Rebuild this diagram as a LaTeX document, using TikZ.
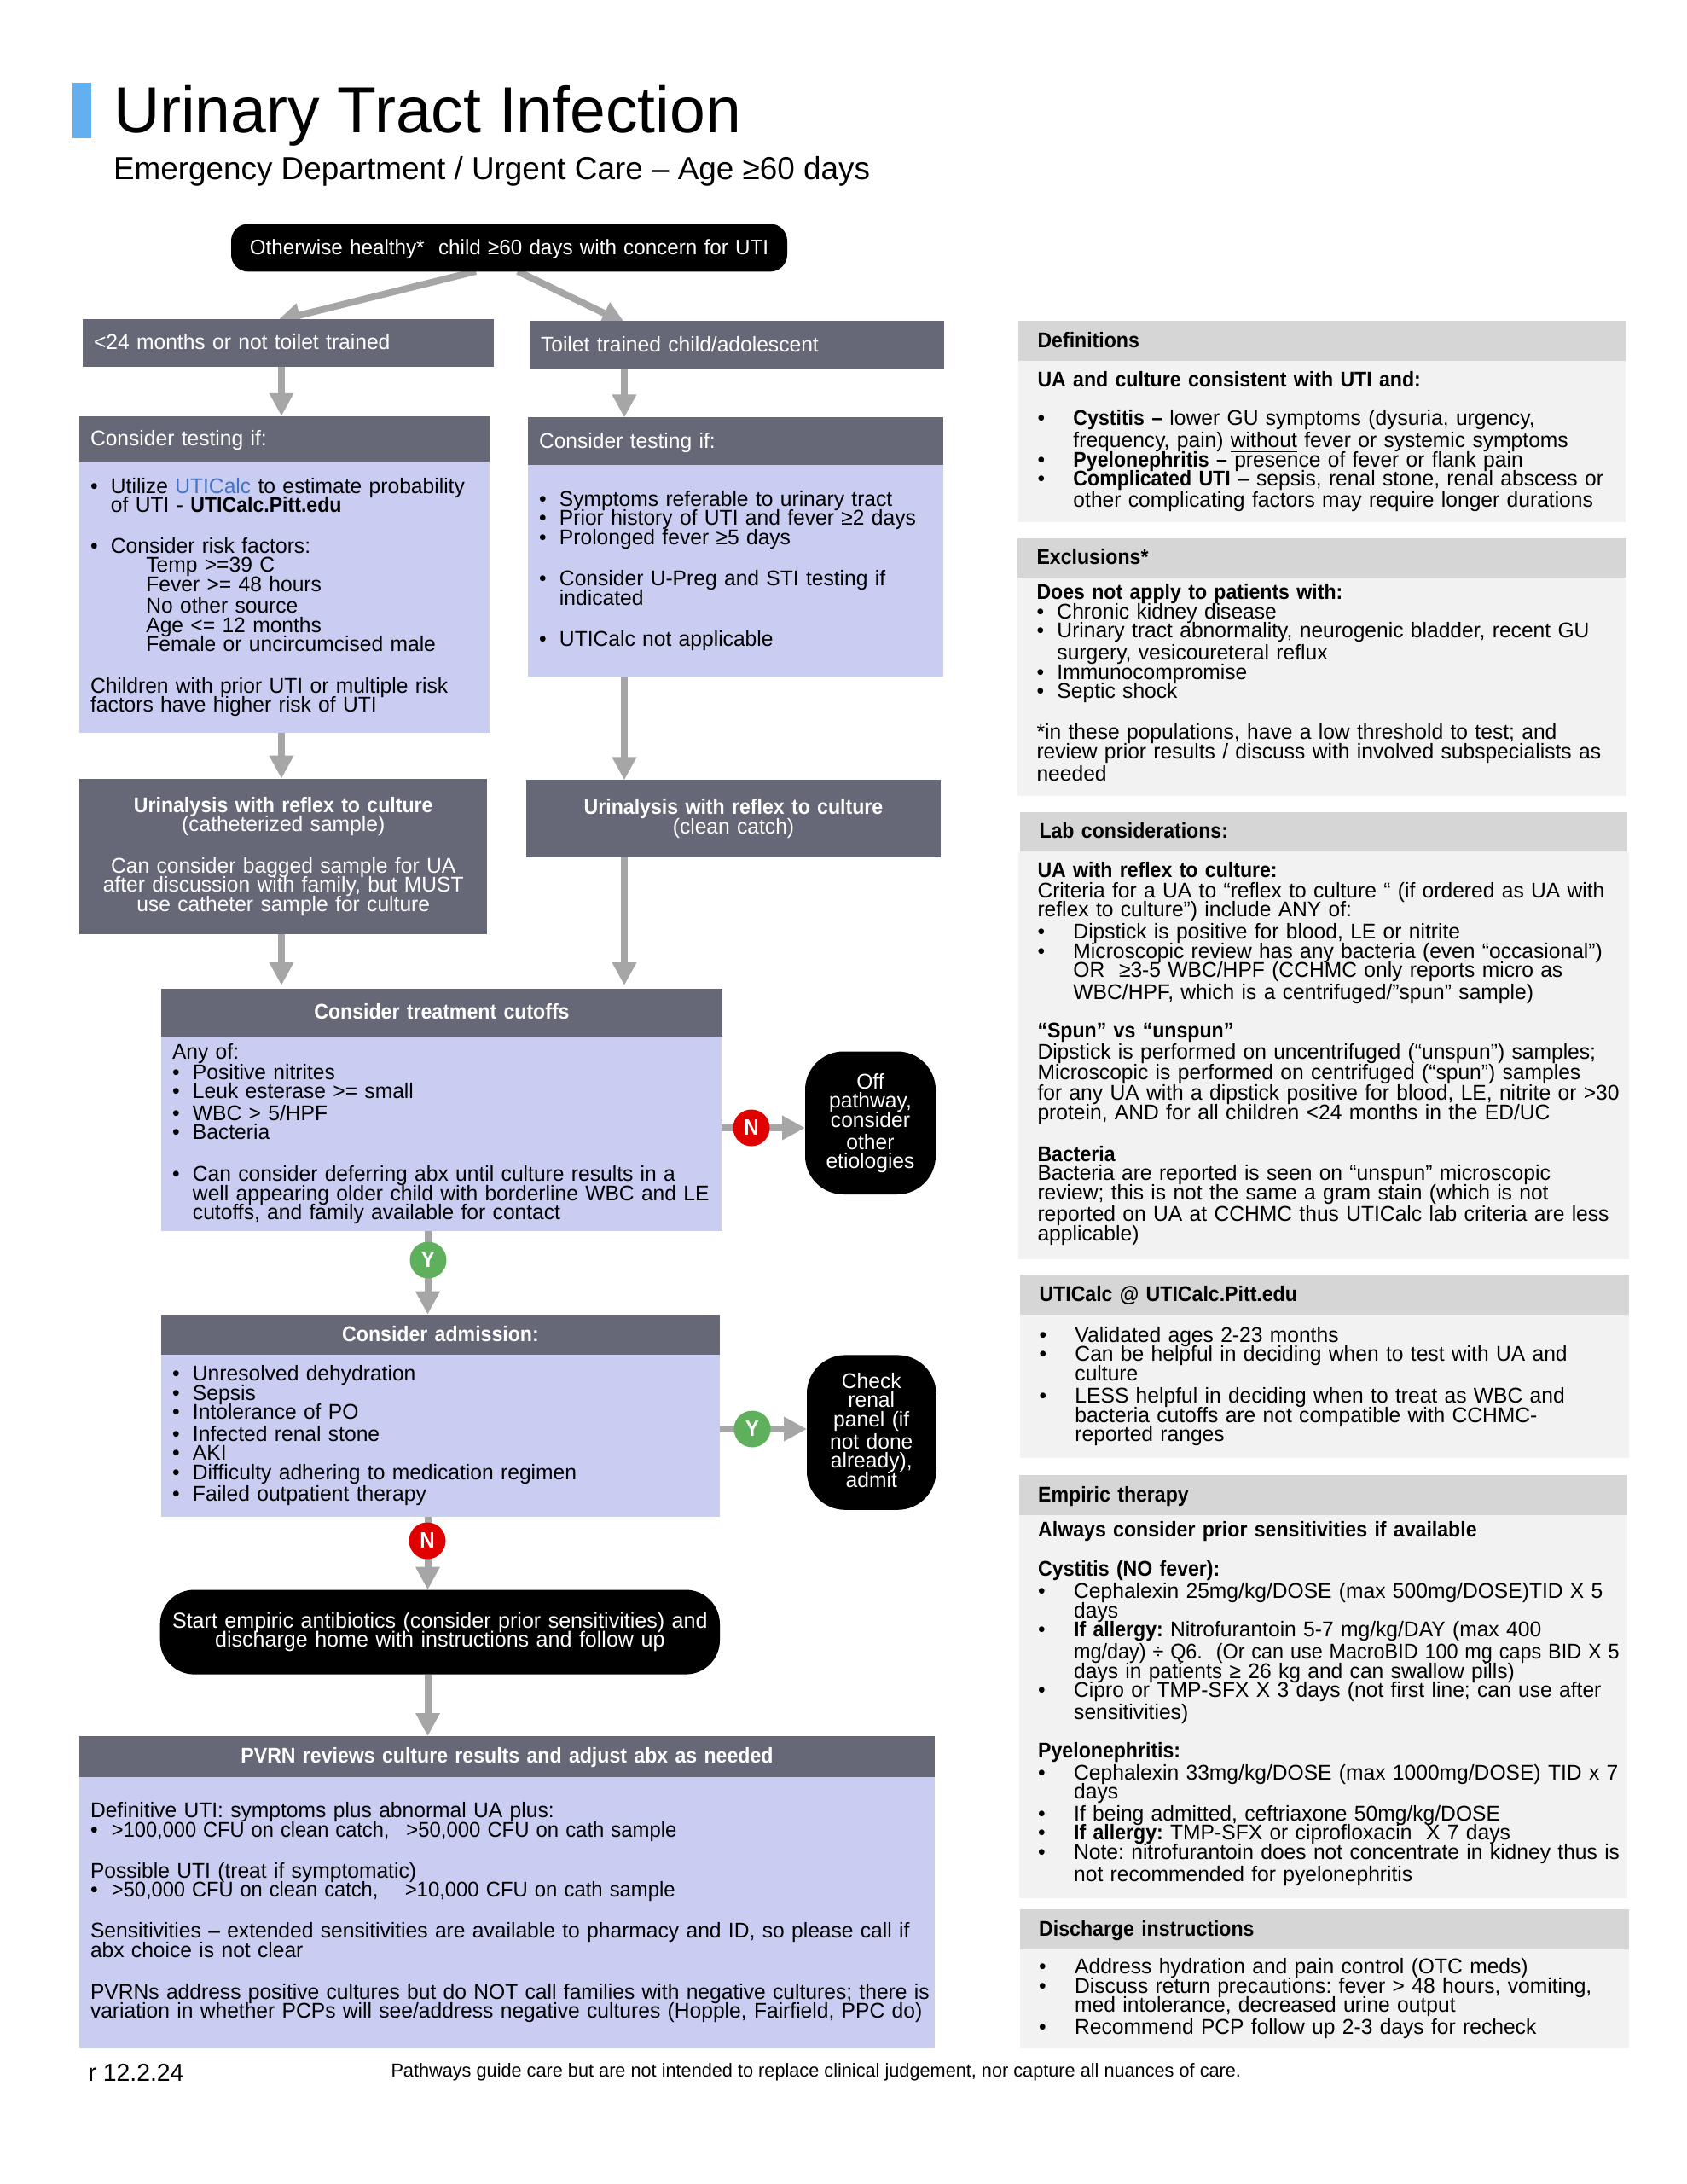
\documentclass[tikz,border=0pt]{standalone}
\usepackage{fontspec}
\setmainfont[FakeStretch=0.985,BoldFeatures={FakeStretch=0.925}]{Liberation Sans}
\usepackage{xcolor}
\usepackage{graphicx}
\usetikzlibrary{arrows.meta, positioning, calc, backgrounds}
\definecolor{hdrgray}{HTML}{666878}
\definecolor{bodyblue}{HTML}{CACDF2}
\definecolor{sidehdr}{HTML}{D6D6D6}
\definecolor{sidebody}{HTML}{F2F2F2}
\definecolor{flowgray}{HTML}{A6A6A6}
\definecolor{barblue}{HTML}{63B0F0}
\definecolor{linkblue}{HTML}{4472C4}
\definecolor{decred}{HTML}{E00000}
\definecolor{decgreen}{HTML}{5FB05D}
\newdimen\pxu
\pxu=0.01cm
\newcommand{\bodyfont}{\fontsize{7.11}{6.4}\selectfont\lineskiplimit=-20pt\frenchspacing}
\newcommand{\startfont}{\fontsize{7.24}{6.4}\selectfont\lineskiplimit=-20pt\frenchspacing}
\newcommand{\bulS}[1]{\mbox{\makebox[24\pxu][l]{•}#1}}
\newcommand{\bulL}[1]{\mbox{\makebox[42\pxu][l]{•}#1}}
\newcommand{\ind}[2]{\mbox{\hspace*{#1\pxu}#2}}
\newcommand{\nudge}[1]{\rule[-#1\pxu]{0pt}{0pt}}
\tikzset{
  boxbase/.style={rectangle, anchor=north west, inner ysep=0pt, outer sep=0pt, align=left, font=\bodyfont},
  darkhdr/.style 2 args={boxbase, fill=hdrgray, text=white, inner xsep=0.13cm,
    minimum width=#1cm, minimum height=#2cm, text width=#1cm-0.26cm, text height=0.2cm, text depth=0.04cm},
  darkblock/.style 2 args={boxbase, fill=hdrgray, text=white, inner xsep=0.13cm, align=center,
    minimum width=#1cm, minimum height=#2cm, text width=#1cm-0.26cm},
  bluebody/.style 2 args={boxbase, fill=bodyblue, inner xsep=0.13cm,
    minimum width=#1cm, minimum height=#2cm, text width=#1cm-0.26cm},
  greyhdr/.style 2 args={boxbase, fill=sidehdr, inner xsep=0.225cm,
    minimum width=#1cm, minimum height=#2cm, text width=#1cm-0.45cm, text height=0.2cm, text depth=0.04cm},
  greybody/.style 2 args={boxbase, fill=sidebody, inner xsep=0.225cm,
    minimum width=#1cm, minimum height=#2cm, text width=#1cm-0.45cm},
  termbox/.style 2 args={boxbase, fill=black, text=white, align=center, inner xsep=0.05cm, rounded corners=#2,
    minimum width=#1cm, text width=#1cm-0.1cm},
  decno/.style={circle, fill=decred, text=white, inner sep=0pt, minimum size=0.43cm, font=\bfseries\fontsize{7.4}{8}\selectfont},
  decyes/.style={circle, fill=decgreen, text=white, inner sep=0pt, minimum size=0.43cm, font=\bfseries\fontsize{7.4}{8}\selectfont},
  flow/.style={draw=flowgray, line width=0.08cm, -{Triangle[length=0.27cm, width=0.27cm, fill=flowgray]}},
  freetext/.style={anchor=base west, inner sep=0pt, outer sep=0pt}
}
\begin{document}
\begin{tikzpicture}
  \useasboundingbox (0,0) rectangle (19.78,-25.6);
  % title
  \node[rectangle, anchor=north west, fill=barblue, inner sep=0pt, minimum width=0.218cm, minimum height=0.65cm] (titlebar) at (0.845,-0.966) {};
  \node[freetext, font=\fontsize{21.7}{24}\selectfont] (title) at (1.33,-1.557) {Urinary Tract Infection};
  \node[freetext, font=\fontsize{10.65}{12}\selectfont] (subtitle) at (1.33,-2.10) {Emergency Department / Urgent Care – Age ≥60 days};
  % columns the arrows run on
  \coordinate (leftcol) at (3.30,0);
  \coordinate (rightcol) at (7.32,0);
  \coordinate (midcol) at (5.015,0);
  % flow: entry and two branches
  \node[termbox={6.52}{0.2cm}, minimum height=0.56cm, text height=0.2cm, text depth=0.04cm, font=\fontsize{7.0}{8}\selectfont] (entry) at (2.71,-2.624) {Otherwise healthy*~ child ≥60 days with concern for UTI};
  \node[darkhdr={4.82}{0.56}] (younghdr) at (0.97,-3.738) {\mbox{<24 months or not toilet trained}};
  \node[darkhdr={4.86}{0.555}] (olderhdr) at (6.21,-3.764) {Toilet trained child/adolescent};
  % left column
  \node[darkhdr={4.81}{0.532}] (ytesthdr) at (0.93,-4.878) {Consider testing if:};
  \node[bluebody={4.81}{3.18}] (ytest) at (0.93,-5.41) {%
    \bulS{Utilize \textcolor{linkblue}{UTICalc} to estimate probability}\\
    \ind{24}{of UTI - \textbf{UTICalc.Pitt.edu}}\\[25.5\pxu]
    \bulS{Consider risk factors:}\\
    \ind{65.4}{Temp >=39 C}\\
    \ind{65.4}{Fever >= 48 hours}\\[3\pxu]
    \ind{65.4}{No other source}\\
    \ind{65.4}{Age <= 12 months}\\
    \ind{65.4}{Female or uncircumcised male}\\[26\pxu]
    Children with prior UTI or multiple risk\\
    factors have higher risk of UTI};
  \node[darkblock={4.784}{1.826}] (ycath) at (0.93,-9.127) {%
    \textbf{Urinalysis with reflex to culture}\\
    (catheterized sample)\\[26\pxu]
    Can consider bagged sample for UA\\
    after discussion with family, but MUST\\
    use catheter sample for culture};
  % right column
  \node[darkhdr={4.87}{0.556}] (otesthdr) at (6.19,-4.894) {Consider testing if:};
  \node[bluebody={4.87}{2.48}] (otest) at (6.19,-5.45) {%
    \bulS{Symptoms referable to urinary tract}\\
    \bulS{Prior history of UTI and fever ≥2 days}\\[1\pxu]
    \bulS{Prolonged fever ≥5 days}\\[25.5\pxu]
    \bulS{Consider U-Preg and STI testing if}\\
    \ind{24}{indicated}\\[26\pxu]
    \bulS{UTICalc not applicable}};
  \node[darkblock={4.86}{0.902}] (ocatch) at (6.17,-9.144) {%
    \textbf{Urinalysis with reflex to culture}\\[1\pxu]
    (clean catch)};
  % treatment cutoffs
  \node[darkhdr={6.58}{0.557}, align=center] (cuthdr) at (1.89,-11.59) {\textbf{Consider treatment cutoffs}};
  \node[bluebody={6.568}{2.283}] (cut) at (1.89,-12.147) {%
    Any of:\\[1.5\pxu]
    \bulS{Positive nitrites}\\
    \bulS{Leuk esterase >= small}\\[3\pxu]
    \bulS{WBC > 5/HPF}\\
    \bulS{Bacteria}\\[26.5\pxu]
    \bulS{Can consider deferring abx until culture results in a}\\
    \ind{24}{well appearing older child with borderline WBC and LE}\\
    \ind{24}{cutoffs, and family available for contact}};
  \node[termbox={1.53}{0.45cm}, minimum height=1.675cm] (offpath) at (9.44,-12.325) {%
    Off\\ pathway,\\ consider\\[3.5\pxu] other\\[-0.8\pxu] etiologies};
  % admission
  \node[darkhdr={6.55}{0.471}, align=center] (admhdr) at (1.89,-15.407) {\textbf{Consider admission:}};
  \node[bluebody={6.55}{1.902}] (adm) at (1.89,-15.878) {%
    \bulS{Unresolved dehydration}\\
    \bulS{Sepsis}\\
    \bulS{Intolerance of PO}\\[3\pxu]
    \bulS{Infected renal stone}\\
    \bulS{AKI}\\
    \bulS{Difficulty adhering to medication regimen}\\[3\pxu]
    \bulS{Failed outpatient therapy}};
  \node[termbox={1.515}{0.45cm}, minimum height=1.814cm] (renal) at (9.46,-15.884) {%
    Check\\ renal\\ panel (if\\[3.3\pxu] not done\\ already),\\ admit\nudge{6}};
  % discharge
  \node[termbox={6.563}{0.4cm}, minimum height=0.991cm, font=\startfont] (start) at (1.877,-18.635) {%
    Start empiric antibiotics (consider prior sensitivities) and\\
    discharge home with instructions and follow up};
  % PVRN review
  \node[darkhdr={10.03}{0.477}, align=center] (pvrnhdr) at (0.93,-20.35) {\textbf{PVRN reviews culture results and adjust abx as needed}};
  \node[bluebody={10.03}{3.183}] (pvrn) at (0.93,-20.827) {%
    Definitive UTI: symptoms plus abnormal UA plus:\\
    \mbox{\makebox[25\pxu][l]{•}\makebox[345.7\pxu][l]{\scalebox{0.96}[1]{>100,000 CFU on clean catch,}}\scalebox{0.97}[1]{>50,000 CFU on cath sample}}\\[25.8\pxu]
    Possible UTI (treat if symptomatic)\\
    \mbox{\makebox[25\pxu][l]{•}\makebox[344\pxu][l]{\scalebox{0.96}[1]{>50,000 CFU on clean catch,}}\scalebox{0.97}[1]{>10,000 CFU on cath sample}}\\[25.5\pxu]
    \mbox{Sensitivities – extended sensitivities are available to pharmacy and ID, so please call if}\\
    abx choice is not clear\\[26.5\pxu]
    \mbox{PVRNs address positive cultures but do NOT call families with negative cultures; there is}\\
    \mbox{variation in whether PCPs will see/address negative cultures (Hopple, Fairfield, PPC do)}};
  \node[freetext, font=\fontsize{8.2}{10}\selectfont] (revision) at (1.035,-24.39) {r 12.2.24};
  \node[freetext, font=\fontsize{6.27}{8}\selectfont] (disclaimer) at (4.585,-24.345) {Pathways guide care but are not intended to replace clinical judgement, nor capture all nuances of care.};
  % decisions
  \node[decno] (cutno) at (8.81,-13.22) {N};
  \node[decyes] (cutyes) at (5.02,-14.77) {Y};
  \node[decyes] (admyes) at (8.82,-16.75) {Y};
  \node[decno] (admno) at (5.01,-18.06) {N};
  % side panels
  \node[greyhdr={7.12}{0.47}] (defhdr) at (11.94,-3.76) {\textbf{Definitions}};
  \node[greybody={7.12}{1.89}] (def) at (11.94,-4.23) {%
    \textbf{UA and culture consistent with UTI and:}\\[22.8\pxu]
    \bulL{\textbf{Cystitis –} lower GU symptoms (dysuria, urgency,}\\[3.5\pxu]
    \ind{42}{frequency, pain) \underline{without} fever or systemic symptoms}\\
    \bulL{\textbf{Pyelonephritis –} presence of fever or flank pain}\\
    \bulL{\textbf{Complicated UTI} – sepsis, renal stone, renal abscess or}\\[2.7\pxu]
    \ind{42}{other complicating factors may require longer durations}};
  \node[greyhdr={7.14}{0.465}] (exhdr) at (11.93,-6.305) {\textbf{Exclusions*}};
  \node[greybody={7.14}{2.56}] (ex) at (11.93,-6.77) {%
    \textbf{Does not apply to patients with:}\\
    \bulS{Chronic kidney disease}\\
    \bulS{Urinary tract abnormality, neurogenic bladder, recent GU}\\[3.5\pxu]
    \ind{24}{surgery, vesicoureteral reflux}\\
    \bulS{Immunocompromise}\\
    \bulS{Septic shock}\\[25.6\pxu]
    \mbox{*in these populations, have a low threshold to test; and}\\
    \mbox{review prior results / discuss with involved subspecialists as}\\[3.3\pxu]
    needed\nudge{10}};
  \node[greyhdr={7.12}{0.465}] (labhdr) at (11.96,-9.515) {\textbf{Lab considerations:}};
  \node[greybody={7.16}{4.78}, inner xsep=0.225cm] (lab) at (11.94,-9.98) {%
    \textbf{UA with reflex to culture:}\\[1\pxu]
    \mbox{Criteria for a UA to “reflex to culture “ (if ordered as UA with}\\
    reflex to culture”) include ANY of:\\[3.3\pxu]
    \bulL{Dipstick is positive for blood, LE or nitrite}\\
    \bulL{Microscopic review has any bacteria (even “occasional”)}\\
    \ind{42}{OR~ ≥3-5 WBC/HPF (CCHMC only reports micro as}\\[3.3\pxu]
    \ind{42}{WBC/HPF, which is a centrifuged/”spun” sample)}\\[22.7\pxu]
    \textbf{“Spun” vs “unspun”}\\[2.7\pxu]
    \mbox{Dipstick is performed on uncentrifuged (“unspun”) samples;}\\[1\pxu]
    \mbox{Microscopic is performed on centrifuged (“spun”) samples}\\[1.3\pxu]
    \mbox{for any UA with a dipstick positive for blood, LE, nitrite or >30}\\[1.2\pxu]
    \mbox{protein, AND for all children <24 months in the ED/UC}\\[26\pxu]
    \textbf{Bacteria}\\
    \mbox{Bacteria are reported is seen on “unspun” microscopic}\\
    \mbox{review; this is not the same a gram stain (which is not}\\[3.2\pxu]
    \mbox{reported on UA at CCHMC thus UTICalc lab criteria are less}\\
    applicable)\nudge{9}};
  \node[greyhdr={7.14}{0.467}] (calchdr) at (11.96,-14.943) {\textbf{UTICalc @ UTICalc.Pitt.edu}};
  \node[greybody={7.14}{1.676}] (calc) at (11.96,-15.41) {%
    \bulL{Validated ages 2-23 months}\\
    \bulL{Can be helpful in deciding when to test with UA and}\\
    \ind{42}{culture}\\[4\pxu]
    \bulL{LESS helpful in deciding when to treat as WBC and}\\
    \ind{42}{bacteria cutoffs are not compatible with CCHMC-}\\
    \ind{42}{reported ranges}};
  \node[greyhdr={7.133}{0.464}] (emphdr) at (11.947,-17.294) {\textbf{Empiric therapy}};
  \node[greybody={7.133}{4.49}] (emp) at (11.947,-17.758) {%
    \textbf{Always consider prior sensitivities if available}\\[23.5\pxu]
    \textbf{Cystitis (NO fever):}\\[4\pxu]
    \bulL{Cephalexin 25mg/kg/DOSE (max 500mg/DOSE)TID X 5}\\
    \ind{42}{days}\\
    \bulL{\textbf{If allergy:} Nitrofurantoin 5-7 mg/kg/DAY (max 400}\\[3.5\pxu]
    \ind{42}{\scalebox{0.95}[1]{mg/day) ÷ Q6.~ (Or can use MacroBID 100 mg caps BID X 5}}\\
    \ind{42}{days in patients ≥ 26 kg and can swallow pills)}\\
    \bulL{Cipro or TMP-SFX X 3 days (not first line; can use after}\\[3.2\pxu]
    \ind{42}{sensitivities)}\\[23\pxu]
    \textbf{Pyelonephritis:}\\[3\pxu]
    \bulL{Cephalexin 33mg/kg/DOSE (max 1000mg/DOSE) TID x 7}\\
    \ind{42}{days}\\[3\pxu]
    \bulL{If being admitted, ceftriaxone 50mg/kg/DOSE}\\
    \bulL{\textbf{If allergy:} TMP-SFX or ciprofloxacin~ X 7 days}\\
    \bulL{Note: nitrofurantoin does not concentrate in kidney thus is}\\[3.7\pxu]
    \ind{42}{not recommended for pyelonephritis}\nudge{12}};
  \node[greyhdr={7.143}{0.465}] (dishdr) at (11.957,-22.38) {\textbf{Discharge instructions}};
  \node[greybody={7.143}{1.165}] (dis) at (11.957,-22.845) {%
    \bulL{Address hydration and pain control (OTC meds)}\\
    \bulL{Discuss return precautions: fever > 48 hours, vomiting,}\\
    \ind{42}{med intolerance, decreased urine output}\\[3.5\pxu]
    \bulL{Recommend PCP follow up 2-3 days for recheck}};
  % connectors, under the boxes
  \coordinate (entryl) at (5.58,-3.18);
  \coordinate (entryr) at (6.07,-3.18);
  \coordinate (youngtip) at (3.25,-3.76);
  \coordinate (oldertip) at (7.33,-3.79);
  \begin{scope}[on background layer]
    \draw[flow] (entryl) -- (youngtip);
    \draw[flow] (entryr) -- (oldertip);
    \draw[flow] (younghdr.south -| leftcol) -- (ytesthdr.north -| leftcol);
    \draw[flow] (olderhdr.south -| rightcol) -- (otesthdr.north -| rightcol);
    \draw[flow] (ytest.south -| leftcol) -- (ycath.north -| leftcol);
    \draw[flow] (otest.south -| rightcol) -- (ocatch.north -| rightcol);
    \draw[flow] (ycath.south -| leftcol) -- ($(cuthdr.north -| leftcol)+(0,0.04)$);
    \draw[flow] (ocatch.south -| rightcol) -- ($(cuthdr.north -| rightcol)+(0,0.04)$);
    \draw[flow] (cut.east |- cutno) -- (offpath.west |- cutno);
    \draw[flow] (cut.south -| midcol) -- (admhdr.north -| midcol);
    \draw[flow] (adm.east |- admyes) -- (renal.west |- admyes);
    \draw[flow] (adm.south -| midcol) -- (start.north -| midcol);
    \draw[flow] (start.south -| midcol) -- (pvrnhdr.north -| midcol);
  \end{scope}
\end{tikzpicture}
\end{document}
